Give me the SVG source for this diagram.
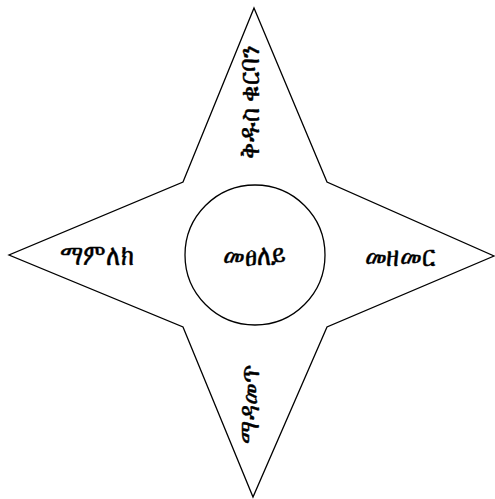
<svg xmlns="http://www.w3.org/2000/svg" width="495" height="499" viewBox="0 0 495 499">
<style>
.shape{fill:#fff;stroke:#000;stroke-width:1.3}
.lbl{font-family:"Noto Sans","DejaVu Sans",serif;font-size:24px;fill:#000;stroke:#000;stroke-width:0.4;text-anchor:middle}
</style>
<rect width="495" height="499" fill="#fff"/>
<g id="star">
<polygon class="shape" points="254,8 327,182 494,256 327,327 253,497 183,327 9,255 183,182"/>
</g>
<g id="center">
<circle class="shape" cx="255" cy="255" r="70"/>
<text class="lbl" transform="translate(255,265) scale(1,1.2)">መፀለይ</text>
</g>
<g id="top">
<text class="lbl" transform="translate(259,102) rotate(-90) scale(1,1.2)">ቅዱስ ቁርባን</text>
</g>
<g id="left">
<text class="lbl" transform="translate(97,265) scale(1,1.2)">ማምለክ</text>
</g>
<g id="right">
<text class="lbl" transform="translate(400,266) scale(1,1.2)">መዘመር</text>
</g>
<g id="bottom">
<text class="lbl" transform="translate(259,404) rotate(-90) scale(1,1.2)">ማዳመጥ</text>
</g>
<g id="connectors"></g>
</svg>
